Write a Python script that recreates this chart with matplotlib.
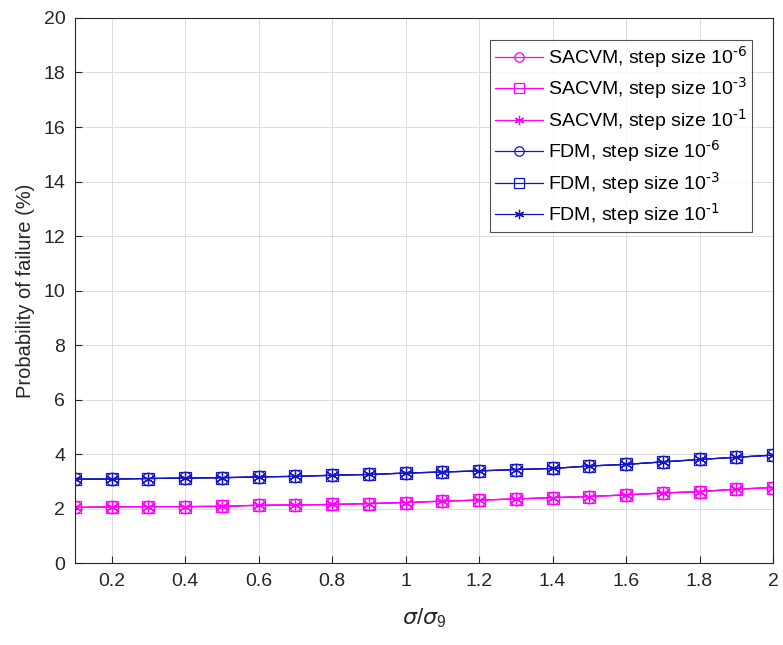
import numpy as np
import matplotlib
matplotlib.use("Agg")
import matplotlib.pyplot as plt

plt.rcParams["font.family"] = ["Liberation Sans", "DejaVu Sans"]
plt.rcParams["mathtext.default"] = "regular"
plt.rcParams["axes.unicode_minus"] = False

x = [0.1, 0.2, 0.3, 0.4, 0.5, 0.6, 0.7, 0.8, 0.9, 1.0,
     1.1, 1.2, 1.3, 1.4, 1.5, 1.6, 1.7, 1.8, 1.9, 2.0]

sacvm_1e6 = [2.04, 2.06, 2.07, 2.07, 2.08, 2.12, 2.13, 2.15, 2.18, 2.22,
             2.27, 2.31, 2.35, 2.40, 2.44, 2.50, 2.57, 2.62, 2.71, 2.77]
sacvm_1e3 = [2.04, 2.06, 2.07, 2.07, 2.08, 2.12, 2.13, 2.15, 2.18, 2.22,
             2.27, 2.31, 2.35, 2.40, 2.44, 2.50, 2.57, 2.62, 2.71, 2.77]
sacvm_1e1 = [2.04, 2.06, 2.07, 2.07, 2.08, 2.12, 2.13, 2.15, 2.18, 2.22,
             2.27, 2.31, 2.35, 2.40, 2.44, 2.50, 2.57, 2.62, 2.71, 2.77]
fdm_1e6 = [3.08, 3.08, 3.10, 3.12, 3.13, 3.16, 3.18, 3.22, 3.25, 3.30,
           3.34, 3.38, 3.43, 3.47, 3.56, 3.62, 3.71, 3.80, 3.88, 3.96]
fdm_1e3 = [3.08, 3.08, 3.10, 3.12, 3.13, 3.16, 3.18, 3.22, 3.25, 3.30,
           3.34, 3.38, 3.43, 3.47, 3.56, 3.62, 3.71, 3.80, 3.88, 3.96]
fdm_1e1 = [3.08, 3.08, 3.10, 3.12, 3.13, 3.16, 3.18, 3.22, 3.25, 3.30,
           3.34, 3.38, 3.43, 3.47, 3.56, 3.62, 3.71, 3.80, 3.88, 3.96]

labels = [r"SACVM, step size 10$^{\text{-6}}$", r"SACVM, step size 10$^{\text{-3}}$",
          r"SACVM, step size 10$^{\text{-1}}$", r"FDM, step size 10$^{\text{-6}}$",
          r"FDM, step size 10$^{\text{-3}}$", r"FDM, step size 10$^{\text{-1}}$"]

fig = plt.figure(figsize=(7.83, 6.45), dpi=100)
ax = fig.add_axes([0.0958, 0.1271, 0.8914, 0.845])

series = [sacvm_1e6, sacvm_1e3, sacvm_1e1, fdm_1e6, fdm_1e3, fdm_1e1]
colors = ["#ff00ff"] * 3 + ["#1414c8"] * 3
asterisk = (6, 2, 0)  # matlab style '*'
markers = ["o", "s", asterisk] * 2
for y, c, m, lab in zip(series, colors, markers, labels):
    ax.plot(x, y, color=c, marker=m, markersize=9,
            markerfacecolor="none", markeredgewidth=0.9, linewidth=0.9, label=lab)

ax.set_xlim(0.1, 2)
ax.set_ylim(0, 20)
ax.set_xticks(np.arange(0.2, 2.01, 0.2))
ax.set_xticklabels(["0.2", "0.4", "0.6", "0.8", "1", "1.2", "1.4", "1.6", "1.8", "2"])
ax.set_yticks(np.arange(0, 21, 2))
ax.tick_params(direction="in", labelsize=14, length=5, width=0.8, pad=7, colors="#262626")
ax.grid(True, color="#dcdcdc", linewidth=0.7)
ax.set_axisbelow(True)
for s in ax.spines.values():
    s.set_color("#262626")
    s.set_linewidth(0.8)

ax.set_xlabel(r"$\mathit{\sigma}/\mathit{\sigma}_9$", fontsize=16, color="#262626", labelpad=12)
ax.set_ylabel("Probability of failure (%)", fontsize=14.5, color="#262626", labelpad=6)

leg = ax.legend(loc="upper right", bbox_to_anchor=(0.970, 0.9596), fontsize=14,
                frameon=True, fancybox=False, edgecolor="#262626", borderaxespad=0,
                markerscale=0.75, handlelength=2.5, handletextpad=0.25,
                borderpad=0.25, labelspacing=0.32)
leg.get_frame().set_linewidth(0.8)

fig.savefig("out.png", dpi=100)
